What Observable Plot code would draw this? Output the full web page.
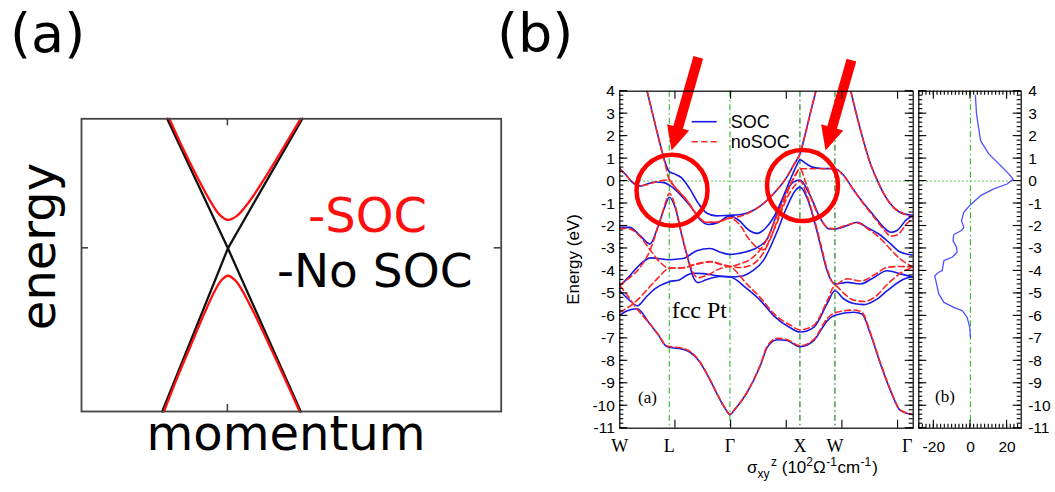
<!DOCTYPE html>
<html>
<head>
<meta charset="utf-8">
<script src="https://cdn.jsdelivr.net/npm/d3@7"></script>
<script src="https://cdn.jsdelivr.net/npm/@observablehq/plot@0.6"></script>
<style>
  html, body { margin: 0; padding: 0; background: #fff; }
  #fig { position: relative; width: 1055px; height: 492px; overflow: hidden; background: #fff; }
  #fig > svg { position: absolute; left: 0; top: 0; }
</style>
</head>
<body>
<div id="fig"></div>
<script>
// ---------- panel (a): schematic crossing with and without spin-orbit coupling ----------
// [momentum, energy] in arbitrary units, crossing point at (0, 0)
const noSocDown = [[-0.622, 1.0], [0, 0], [0.746, -1.26]];
const noSocUp = [[-0.673, -1.26], [-0.336, -0.63], [0, 0], [0.38, 0.5], [0.763, 1.0]];
const socUpper = [[-0.6, 1.0], [-0.466, 0.78], [-0.314, 0.55], [-0.185, 0.37], [-0.087, 0.26], [0, 0.219],
  [0.092, 0.25], [0.218, 0.36], [0.368, 0.53], [0.555, 0.76], [0.745, 1.0]];
const socLower = [[-0.655, -1.26], [-0.52, -1.0], [-0.38, -0.75], [-0.24, -0.5], [-0.135, -0.33], [-0.07, -0.25], [0, -0.212],
  [0.078, -0.25], [0.15, -0.33], [0.268, -0.5], [0.426, -0.75], [0.579, -1.0], [0.735, -1.26]];

// ---------- panel (b): fcc Pt band structure along W-L-Γ-X-W-Γ ----------
const symK = [0, 0.707, 1.573, 2.573, 3.073, 4.191];
const symLabels = ["W", "L", "Γ", "X", "W", "Γ"];
const kTicks = [0.795, 1.59, 2.385, 3.18, 3.975];

// with spin-orbit coupling, [k, E(eV)]
const soc1 = [[0,-5.97],[0.1,-5.78],[0.25,-5.68],[0.414,-6.29],[0.557,-6.88],[0.653,-7.33],[0.707,-7.4],[0.891,-7.48],[1.01,-7.63],[1.129,-8.0],[1.27,-8.74],[1.414,-9.63],[1.51,-10.15],[1.573,-10.4],[1.64,-10.18],[1.82,-9.4],[2.01,-8.2],[2.106,-7.4],[2.249,-7.06],[2.39,-7.1],[2.573,-7.37],[2.77,-7.1],[2.963,-6.22],[3.073,-5.97],[3.343,-5.84],[3.46,-5.92],[3.58,-6.81],[3.724,-8.14],[3.867,-9.33],[4.01,-10.22],[4.191,-10.4]];
const soc2 = [[0,-4.88],[0.12,-5.25],[0.25,-5.55],[0.38,-5.15],[0.5,-4.8],[0.707,-4.48],[0.85,-4.4],[0.95,-4.2],[1.05,-4.1],[1.2,-4.12],[1.4,-4.22],[1.573,-4.26],[1.82,-4.8],[2.01,-5.32],[2.2,-6.0],[2.44,-6.54],[2.573,-6.72],[2.77,-6.51],[2.96,-5.47],[3.073,-4.88],[3.2,-5.25],[3.34,-5.45],[3.49,-5.5],[3.65,-5.3],[3.82,-4.88],[4.06,-4.36],[4.191,-4.26]];
const soc3 = [[0,-4.65],[0.12,-4.3],[0.248,-3.84],[0.44,-3.42],[0.707,-3.5],[0.9,-3.45],[1.1,-3.1],[1.29,-3.0],[1.45,-3.18],[1.573,-3.27],[1.7,-3.22],[1.9,-3.05],[2.1,-2.6],[2.24,-1.5],[2.38,-0.45],[2.48,-0.05],[2.573,0.05],[2.72,-0.65],[2.87,-1.69],[2.99,-2.13],[3.073,-2.13],[3.25,-1.98],[3.39,-1.83],[3.53,-2.06],[3.72,-2.4],[3.87,-2.8],[4.0,-3.15],[4.191,-3.3]];
const soc4 = [[0,-2.06],[0.14,-2.06],[0.29,-2.43],[0.43,-2.8],[0.55,-1.98],[0.64,-1.17],[0.707,-0.72],[0.79,-1.17],[0.88,-2.35],[0.98,-3.54],[1.05,-4.28],[1.12,-4.52],[1.24,-4.38],[1.43,-4.25],[1.573,-4.27],[1.71,-4.25],[1.9,-3.99],[2.05,-3.54],[2.24,-2.3],[2.38,-1.2],[2.5,-0.45],[2.573,-0.27],[2.68,-0.79],[2.77,-1.69],[2.87,-2.9],[2.96,-3.99],[3.073,-4.58],[3.25,-4.51],[3.44,-4.58],[3.6,-4.35],[3.82,-3.99],[4.0,-4.12],[4.191,-4.28]];
const soc5 = [[0,0.55],[0.08,0.3],[0.15,0.03],[0.3,-0.22],[0.4,-0.12],[0.52,-0.04],[0.63,-0.07],[0.707,-0.18],[0.8,-0.4],[0.92,-0.8],[1.04,-1.25],[1.14,-1.7],[1.26,-1.93],[1.4,-1.85],[1.573,-1.55],[1.7,-1.75],[1.85,-2.2],[1.96,-2.33],[2.08,-2.1],[2.2,-1.6],[2.32,-0.8],[2.44,0.1],[2.52,0.65],[2.573,0.95],[2.65,0.8],[2.75,0.62],[2.9,0.56],[3.073,0.55],[3.2,0.25],[3.34,-0.4],[3.49,-1.02],[3.63,-1.54],[3.77,-2.06],[3.87,-2.28],[3.96,-2.2],[4.1,-1.7],[4.191,-1.54]];
const soc6 = [[0.39,4.0],[0.51,2.47],[0.606,1.28],[0.66,0.72],[0.707,0.42],[0.78,0.32],[0.88,0.15],[1.0,-0.35],[1.12,-0.98],[1.24,-1.42],[1.38,-1.55],[1.573,-1.52],[1.7,-1.5],[1.82,-1.42],[2.01,-1.1],[2.2,-0.55],[2.39,0.2],[2.5,0.8],[2.573,1.21],[2.65,2.1],[2.72,3.0],[2.8,4.0]];
const soc7 = [[3.3,4.0],[3.44,2.25],[3.58,0.77],[3.68,0.02],[3.8,-0.72],[3.91,-1.17],[4.06,-1.46],[4.191,-1.52]];

// without spin-orbit coupling, [k, E(eV)]
const nosoc1 = [[0,-4.66],[0.1,-5.05],[0.2,-5.5],[0.3,-5.9],[0.414,-6.3],[0.557,-6.86],[0.653,-7.3],[0.707,-7.36],[0.891,-7.44],[1.01,-7.6],[1.129,-7.98],[1.27,-8.72],[1.414,-9.61],[1.51,-10.13],[1.573,-10.38],[1.64,-10.16],[1.82,-9.38],[2.01,-8.15],[2.106,-7.35],[2.249,-7.0],[2.39,-7.06],[2.573,-7.33],[2.77,-7.05],[2.963,-6.12],[3.073,-5.86],[3.343,-5.74],[3.46,-5.84],[3.58,-6.75],[3.724,-8.1],[3.867,-9.3],[4.01,-10.2],[4.191,-10.38]];
const nosoc2 = [[0,-5.84],[0.12,-5.62],[0.25,-5.3],[0.4,-4.8],[0.55,-4.3],[0.707,-3.88],[0.9,-3.86],[1.1,-3.7],[1.3,-3.6],[1.45,-3.72],[1.573,-3.8],[1.82,-4.6],[2.01,-5.2],[2.2,-5.9],[2.44,-6.42],[2.573,-6.62],[2.77,-6.42],[2.96,-5.35],[3.073,-4.66],[3.2,-5.0],[3.34,-5.3],[3.49,-5.36],[3.65,-5.15],[3.82,-4.6],[4.06,-4.0],[4.191,-3.84]];
const nosoc3 = [[0,-4.66],[0.1,-4.4],[0.29,-3.84],[0.43,-3.1],[0.55,-2.0],[0.64,-1.1],[0.707,-0.54],[0.79,-1.1],[0.88,-2.3],[0.98,-3.5],[1.05,-4.1],[1.12,-4.3],[1.24,-4.2],[1.43,-3.9],[1.573,-3.8],[1.71,-3.85],[1.9,-3.7],[2.05,-3.2],[2.24,-1.9],[2.38,-0.8],[2.5,-0.2],[2.573,0.0],[2.68,-0.7],[2.77,-1.6],[2.87,-2.8],[2.96,-3.9],[3.073,-4.6],[3.25,-4.35],[3.44,-4.45],[3.65,-4.15],[3.82,-3.84],[4.0,-3.8],[4.191,-3.84]];
const nosoc4 = [[0,-2.1],[0.14,-2.13],[0.3,-2.5],[0.43,-3.05],[0.57,-3.6],[0.707,-3.88],[0.9,-3.86],[1.1,-3.68],[1.3,-3.58],[1.45,-3.7],[1.573,-3.8],[1.7,-3.7],[1.9,-3.4],[2.1,-2.6],[2.25,-1.5],[2.4,-0.35],[2.5,0.2],[2.573,0.55],[2.66,-0.1],[2.75,-0.9],[2.87,-1.7],[2.99,-2.1],[3.073,-2.12],[3.25,-1.95],[3.39,-1.86],[3.53,-2.1],[3.72,-2.55],[3.87,-3.05],[4.0,-3.45],[4.191,-3.84]];
const nosoc5 = [[0,0.55],[0.08,0.3],[0.15,0.05],[0.32,-0.2],[0.5,-0.05],[0.6,0.02],[0.707,0.05],[0.77,-0.2],[0.96,-0.87],[1.13,-1.61],[1.225,-1.83],[1.37,-1.83],[1.573,-1.65],[1.7,-1.9],[1.85,-2.6],[1.96,-2.95],[2.05,-3.05],[2.15,-2.55],[2.3,-1.3],[2.44,-0.15],[2.52,0.35],[2.573,0.55],[2.7,0.55],[2.9,0.55],[3.073,0.55],[3.2,0.22],[3.34,-0.4],[3.49,-1.05],[3.63,-1.6],[3.77,-2.15],[3.87,-2.45],[3.96,-2.4],[4.1,-1.9],[4.191,-1.65]];
const nosoc6 = [[0.39,4.0],[0.51,2.47],[0.606,1.28],[0.66,0.6],[0.707,0.05],[0.77,-0.2],[0.96,-0.87],[1.13,-1.61],[1.225,-1.83],[1.37,-1.83],[1.573,-1.65],[1.7,-1.58],[1.82,-1.45],[2.01,-1.1],[2.2,-0.55],[2.39,0.2],[2.5,0.8],[2.573,1.21],[2.65,2.1],[2.72,3.0],[2.8,4.0]];
const nosoc7 = [[3.3,4.0],[3.44,2.25],[3.58,0.77],[3.68,0.02],[3.8,-0.72],[3.91,-1.17],[4.06,-1.46],[4.191,-1.6]];

// highlighted regions and the arrows pointing at them
const circleCenters = [{k: 0.746, E: -0.41}, {k: 2.61, E: -0.2}];
const arrowTips = [{k: 0.739, E: 1.36}, {k: 2.939, E: 1.36}];

// ---------- side panel: spin Hall conductivity vs energy ----------
const sigmaE =  [3.81, 3.0, 1.8, 1.21, 0.69, 0.32, 0.08, -0.13, -0.35, -0.65, -1.05, -1.39, -1.76, -2.06, -2.2, -2.38, -2.65, -2.95, -3.17, -3.39, -3.54, -3.99, -4.06, -4.21, -4.58, -5.02, -5.4, -5.62, -5.77, -6.07, -6.51, -6.96];
const sigmaXY = [2.7, 3.3, 5.5, 10, 16.4, 20.9, 23.3, 20, 12.7, 5.5, 0, -3.6, -4.9, -3.6, -4.9, -9.1, -9.5, -7.6, -7.3, -10, -14.5, -15.4, -17.3, -19.5, -18.5, -17.3, -14.5, -9.1, -4.5, -1.8, -0.4, 0];
const sigmaTicks = [-20, 0, 20];

// ---------- layout ----------
const W = 1055, H = 492;
const fig = document.getElementById("fig");
const baseStyle = {background: "transparent", overflow: "visible", fontFamily: "Liberation Sans, Arial, sans-serif"};

const energyTicks = d3.range(-11, 5);
const energyMinor = d3.range(-55, 21).map(i => i / 5);
const sigmaMinor = d3.range(-14, 14).map(i => i * 2);

const toRows = (bands) => bands.flatMap((band, i) => band.map(([k, E]) => ({k, E, band: i})));
const socRows = toRows([soc1, soc2, soc3, soc4, soc5, soc6, soc7]);
const nosocRows = toRows([nosoc1, nosoc2, nosoc3, nosoc4, nosoc5, nosoc6, nosoc7]);
const pairRows = (pts) => pts.map(([k, E]) => ({k, E}));
const symLabelOf = new Map(symK.map((k, i) => [k, symLabels[i]]));
const sigmaRows = sigmaE.map((E, i) => ({s: sigmaXY[i], E}));

// panel (a)
const A = {left: 81, right: 500.7, top: 118.3, bottom: 411};
const plotA = Plot.plot({
  width: W, height: H,
  marginLeft: A.left, marginRight: W - A.right, marginTop: A.top, marginBottom: H - A.bottom,
  x: {domain: [-1.5, 2.8], axis: null},
  y: {domain: [-1.26, 1.0], axis: null},
  style: baseStyle,
  marks: [
    Plot.line(pairRows(noSocDown), {x: "k", y: "E", stroke: "#111", strokeWidth: 2.3}),
    Plot.line(pairRows(noSocUp), {x: "k", y: "E", stroke: "#111", strokeWidth: 2.3}),
    Plot.line(pairRows(socUpper), {x: "k", y: "E", stroke: "#ff1010", strokeWidth: 2.3, curve: "catmull-rom"}),
    Plot.line(pairRows(socLower), {x: "k", y: "E", stroke: "#ff1010", strokeWidth: 2.3, curve: "catmull-rom"}),
    Plot.frame({stroke: "#444", strokeWidth: 1.8})
  ]
});

// custom filled arrow: shaft plus triangular head, tip at the anchor point
const arrowShape = {
  draw(ctx, l) {
    const h = 24, hw = 11.5, sw = 5;
    ctx.moveTo(-sw, 0);
    ctx.lineTo(-sw, -(l - h));
    ctx.lineTo(-hw, -(l - h));
    ctx.lineTo(0, -l);
    ctx.lineTo(hw, -(l - h));
    ctx.lineTo(sw, -(l - h));
    ctx.lineTo(sw, 0);
    ctx.closePath();
  }
};

const B = {left: 619.3, right: 912.7, top: 90.7, bottom: 427.7};
const plotB = Plot.plot({
  width: W, height: H,
  marginLeft: B.left, marginRight: W - B.right, marginTop: B.top, marginBottom: H - B.bottom,
  x: {domain: [0, symK[symK.length - 1]], axis: null},
  y: {domain: [-11, 4], axis: null},
  style: baseStyle,
  marks: [
    Plot.ruleX([symK[1], symK[2]], {stroke: "#3dbb3d", strokeWidth: 1.2, strokeDasharray: "6,3,1.5,3"}),
    Plot.ruleX([symK[3], symK[4]], {stroke: "#1c861c", strokeWidth: 1.2, strokeDasharray: "6,3,1.5,3"}),
    Plot.ruleY([0], {stroke: "#55c455", strokeWidth: 1.2, strokeDasharray: "1.5,2.5"}),
    Plot.line(socRows, {x: "k", y: "E", z: "band", stroke: "#1818e6", strokeWidth: 1.6, curve: "monotone-x", clip: "frame"}),
    Plot.line(nosocRows, {x: "k", y: "E", z: "band", stroke: "#ff2424", strokeWidth: 1.6, strokeDasharray: "6,3.5", curve: "monotone-x", clip: "frame"}),
    Plot.dot(circleCenters, {x: "k", y: "E", r: 35.5, stroke: "#ff0000", strokeWidth: 4.5, fill: "none"}),
    Plot.vector([arrowTips[0]], {x: "k", y: "E", length: 97, rotate: 196, anchor: "end", shape: arrowShape, fill: "#ff0000", stroke: "none"}),
    Plot.vector([arrowTips[1]], {x: "k", y: "E", length: 94, rotate: 196, anchor: "end", shape: arrowShape, fill: "#ff0000", stroke: "none"}),
    Plot.axisY(energyTicks, {anchor: "left", tickSize: 0, tickPadding: 5, tickFormat: d => String(d), label: null, fontSize: 15.5}),
    Plot.axisX(symK.slice(0, 5), {anchor: "bottom", tickSize: 0, tickPadding: 11.5, tickFormat: d => symLabelOf.get(d), label: null, fontSize: 18, fontFamily: "Liberation Serif, Times New Roman, serif"}),
    Plot.axisX(symK.slice(5), {anchor: "bottom", tickSize: 0, tickPadding: 11.5, tickFormat: d => symLabelOf.get(d), label: null, fontSize: 18, dx: -6, fontFamily: "Liberation Serif, Times New Roman, serif"}),
    Plot.frame({stroke: "#000", strokeWidth: 1.2})
  ]
});

const C = {left: 918.3, right: 1020.7, top: 90.7, bottom: 427.7};
const sigmaDomain = [-28.2, 27.7];
const plotC = Plot.plot({
  width: W, height: H,
  marginLeft: C.left, marginRight: W - C.right, marginTop: C.top, marginBottom: H - C.bottom,
  x: {domain: sigmaDomain, axis: null},
  y: {domain: [-11, 4], axis: null},
  style: baseStyle,
  marks: [
    Plot.ruleX([0], {stroke: "#3dbb3d", strokeWidth: 1.2, strokeDasharray: "6,3,1.5,3"}),
    Plot.ruleY([0], {x1: sigmaDomain[0], x2: d3.max(sigmaXY), stroke: "#55c455", strokeWidth: 1.2, strokeDasharray: "1.5,2.5"}),
    Plot.line(sigmaRows, {x: "s", y: "E", stroke: "#5050ff", strokeWidth: 1.3}),
    Plot.axisY(energyTicks, {anchor: "right", tickSize: 0, tickPadding: 7, tickFormat: d => String(d), label: null, fontSize: 15.5}),
    Plot.axisX(sigmaTicks, {anchor: "bottom", tickSize: 0, tickPadding: 13, tickFormat: d => String(d), label: null, fontSize: 15.5}),
    Plot.frame({stroke: "#000", strokeWidth: 1.2})
  ]
});

for (const p of [plotA, plotB, plotC]) fig.appendChild(p);

// ---------- overlay: inward frame ticks, labels, legend and panel letters ----------
const svg = d3.select(fig).append("svg").attr("width", W).attr("height", H);

// inward ticks on all four sides of a frame, positioned with the plot's own scales
function inwardTicks(plot, box, xs, ys, size, stroke = "#000", width = 1.1) {
  const sx = plot.scale("x"), sy = plot.scale("y");
  const g = svg.append("g").attr("stroke", stroke).attr("stroke-width", width);
  const seg = (x1, y1, x2, y2) => g.append("line").attr("x1", x1).attr("y1", y1).attr("x2", x2).attr("y2", y2);
  for (const v of xs || []) {
    const x = sx.apply(v);
    seg(x, box.top, x, box.top + size);
    seg(x, box.bottom, x, box.bottom - size);
  }
  for (const v of ys || []) {
    const y = sy.apply(v);
    seg(box.left, y, box.left + size, y);
    seg(box.right, y, box.right - size, y);
  }
}
inwardTicks(plotA, A, [0], [0], 7, "#444", 1.6);
inwardTicks(plotB, B, kTicks, energyTicks, 8);
inwardTicks(plotB, B, null, energyMinor, 4);
inwardTicks(plotC, C, sigmaTicks, energyTicks, 8);
inwardTicks(plotC, C, sigmaMinor, energyMinor, 4);

const sans = "DejaVu Sans, Verdana, sans-serif";
const arial = "Liberation Sans, Arial, sans-serif";
const serif = "Liberation Serif, Times New Roman, serif";

function label(x, y, str, size, family, opts = {}) {
  const t = svg.append("text").attr("x", x).attr("y", y).attr("font-size", size).attr("font-family", family)
    .attr("fill", opts.fill || "#000").attr("text-anchor", opts.anchor || "start").text(str);
  if (opts.rotate) t.attr("transform", `rotate(${opts.rotate},${x},${y})`);
  return t;
}

label(10, 52, "(a)", 54, sans);
label(497, 52, "(b)", 54, sans);
label(55, 246.5, "energy", 48, sans, {anchor: "middle", rotate: -90});
label(286, 450, "momentum", 48, sans, {anchor: "middle"});
label(308, 232, "-SOC", 48, sans, {fill: "#ff1010"});
label(277, 287, "-No SOC", 47, sans);

label(579, 259.5, "Energy (eV)", 17, arial, {anchor: "middle", rotate: -90});
label(671.7, 318, "fcc Pt", 24, serif);
label(638, 403, "(a)", 17, serif);
label(935, 402, "(b)", 17, serif);

// legend
svg.append("line").attr("x1", 691.7).attr("x2", 716.7).attr("y1", 121.7).attr("y2", 121.7)
  .attr("stroke", "#1818e6").attr("stroke-width", 1.6);
svg.append("line").attr("x1", 691.7).attr("x2", 716.7).attr("y1", 141.7).attr("y2", 141.7)
  .attr("stroke", "#ff2424").attr("stroke-width", 1.6).attr("stroke-dasharray", "6,3.5");
label(730.7, 128, "SOC", 18, arial);
label(730.7, 147.5, "noSOC", 18, arial);

// σ_xy^z (10^2 Ω^-1 cm^-1), laid out as flowing tspans with sub/superscripts
const sig = svg.append("text").attr("font-family", arial).attr("font-size", 17).attr("x", 747).attr("y", 473);
const parts = [
  ["σ", 0, 0, 17], ["xy", 5, 0, 12], ["z", -12, 1.5, 12], [" (10", 7, 0, 17], ["2", -7, 0, 12],
  ["Ω", 7, 0, 17], ["-1", -7, 0.5, 12], ["cm", 7, 0.5, 17], ["-1", -7, 0.5, 12], [")", 7, 1, 17]
];
for (const [s, dy, dx, fs] of parts) {
  sig.append("tspan").attr("dy", dy).attr("dx", dx).attr("font-size", fs).text(s);
}
</script>
</body>
</html>
